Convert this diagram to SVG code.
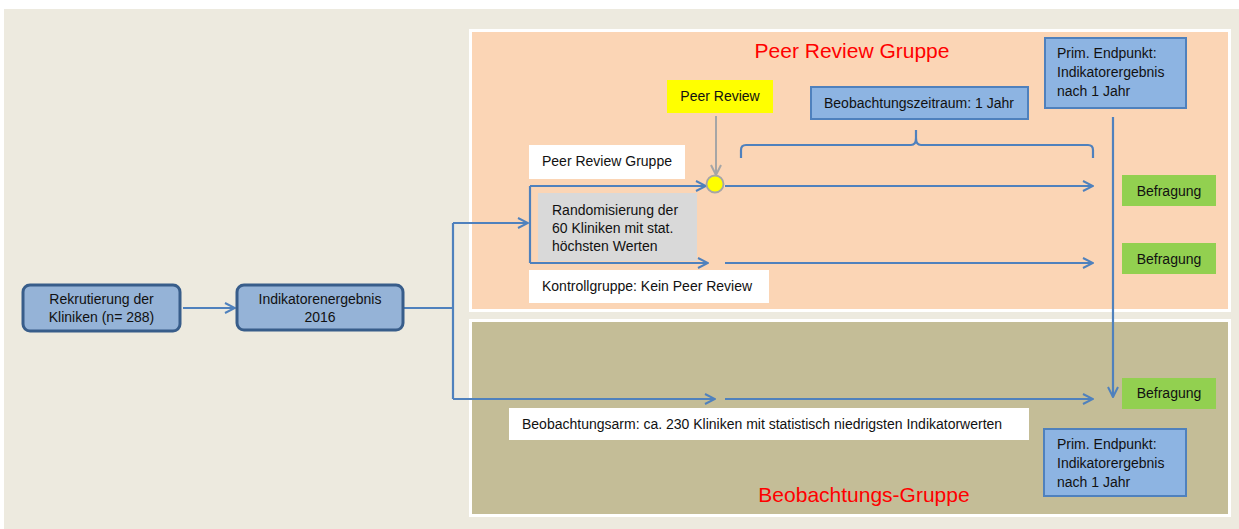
<svg xmlns="http://www.w3.org/2000/svg" width="1239" height="529" viewBox="0 0 1239 529">
<style>
text{font-family:"Liberation Sans",Arial,sans-serif;font-size:14px;fill:#111}
.red{fill:#FF0000;font-size:21px}
.blue{fill:#95B3D7;stroke:#385D8A;stroke-width:3}
.ep{fill:#8DB4E2;stroke:#4F81BD;stroke-width:2}
.wh{fill:#FFFFFF}
.gr{fill:#92D050}
.ln{fill:none;stroke:#4F81BD;stroke-width:2.2}
.ar{fill:none;stroke:#4F81BD;stroke-width:2.2;marker-end:url(#ah)}
</style>
<defs>
<marker id="ah" viewBox="0 0 12 12" refX="11" refY="6" markerWidth="12" markerHeight="12" markerUnits="userSpaceOnUse" orient="auto">
<path d="M1,1 L11,6 L1,11" fill="none" stroke="#4F81BD" stroke-width="2"/>
</marker>
<marker id="ahg" viewBox="0 0 12 12" refX="11" refY="6" markerWidth="12" markerHeight="12" markerUnits="userSpaceOnUse" orient="auto">
<path d="M1,1 L11,6 L1,11" fill="none" stroke="#A6A6A6" stroke-width="2"/>
</marker>
</defs>
<rect x="0" y="0" width="1239" height="529" fill="#FFFFFF"/>
<rect x="4" y="9" width="1235" height="520" fill="#EDEADF"/>
<g id="panel-peer">
<rect x="469" y="29" width="762" height="283" fill="#FFFFFF"/>
<rect x="472" y="32" width="756" height="277" fill="#FBD5B5"/>
<text class="red" x="852" y="58" text-anchor="middle">Peer Review Gruppe</text>
</g>
<g id="panel-beob">
<rect x="469" y="319" width="762" height="198" fill="#FFFFFF"/>
<rect x="472" y="322" width="756" height="192" fill="#C4BD97"/>
<text class="red" x="864" y="502" text-anchor="middle">Beobachtungs-Gruppe</text>
</g>
<g id="connectors">
<path class="ar" d="M183,308 L235,308"/>
<path class="ln" d="M403,308 L453,308 M453,223 L453,399"/>
<path class="ar" d="M453,223 L528,223"/>
<path class="ar" d="M453,399 L715,399"/>
<path class="ar" d="M725,399 L1093,399"/>
<path class="ln" d="M530,186 L530,263"/>
<path class="ar" d="M530,186 L706,186"/>
<path class="ar" d="M530,263 L708,263"/>
<path class="ar" d="M725,186 L1093,186"/>
<path class="ar" d="M725,263 L1093,263"/>
<path class="ar" d="M1113,117 L1113,397"/>
<path d="M716,116 L716,175" fill="none" stroke="#A6A6A6" stroke-width="2" marker-end="url(#ahg)"/>
<path class="ln" d="M741,158 L741,150 Q741,145 746,145 L911,145 Q916,145 916,138 L916,130 L916,138 Q916,145 921,145 L1088,145 Q1093,145 1093,150 L1093,158"/>
</g>
<g id="rekrutierung">
<rect class="blue" x="23" y="285" width="157" height="46" rx="7"/>
<text x="101.5" y="304" text-anchor="middle">Rekrutierung der</text>
<text x="101.5" y="322" text-anchor="middle">Kliniken (n= 288)</text>
</g>
<g id="indikator2016">
<rect class="blue" x="237" y="285" width="166" height="45" rx="7"/>
<text x="320" y="304" text-anchor="middle">Indikatorenergebnis</text>
<text x="320" y="322" text-anchor="middle">2016</text>
</g>
<g id="peer-review">
<rect x="667" y="80" width="106" height="33" fill="#FFFF00"/>
<text x="720" y="101" text-anchor="middle">Peer Review</text>
</g>
<g id="circle">
<circle cx="715" cy="184" r="8.5" fill="#FFFF00" stroke="#A6A6A6" stroke-width="1.8"/>
</g>
<g id="label-peer-gruppe">
<rect class="wh" x="529" y="145" width="156" height="34"/>
<text x="542" y="166">Peer Review Gruppe</text>
</g>
<g id="randomisierung">
<rect x="538" y="193" width="159" height="68" fill="#D9D9D9"/>
<text x="552" y="215">Randomisierung der</text>
<text x="552" y="233">60 Kliniken mit stat.</text>
<text x="552" y="251">höchsten Werten</text>
</g>
<g id="kontrollgruppe">
<rect class="wh" x="529" y="270" width="240" height="33"/>
<text x="542" y="291">Kontrollgruppe: Kein Peer Review</text>
</g>
<g id="beobachtungszeitraum">
<rect class="ep" x="811" y="87" width="217" height="32"/>
<text x="824" y="108">Beobachtungszeitraum: 1 Jahr</text>
</g>
<g id="endpunkt-top">
<rect class="ep" x="1045" y="38" width="141" height="70"/>
<text x="1057" y="58">Prim. Endpunkt:</text>
<text x="1057" y="77">Indikatorergebnis</text>
<text x="1057" y="96">nach 1 Jahr</text>
</g>
<g id="befragung1">
<rect class="gr" x="1122" y="175" width="94" height="31"/>
<text x="1169" y="196" text-anchor="middle">Befragung</text>
</g>
<g id="befragung2">
<rect class="gr" x="1122" y="243" width="94" height="31"/>
<text x="1169" y="264" text-anchor="middle">Befragung</text>
</g>
<g id="befragung3">
<rect class="gr" x="1122" y="378" width="94" height="31"/>
<text x="1169" y="398" text-anchor="middle">Befragung</text>
</g>
<g id="beobachtungsarm">
<rect class="wh" x="509" y="408" width="520" height="32"/>
<text x="522" y="429">Beobachtungsarm: ca. 230 Kliniken mit statistisch niedrigsten Indikatorwerten</text>
</g>
<g id="endpunkt-bottom">
<rect class="ep" x="1044" y="429" width="142" height="67"/>
<text x="1057" y="449">Prim. Endpunkt:</text>
<text x="1057" y="468">Indikatorergebnis</text>
<text x="1057" y="487">nach 1 Jahr</text>
</g>
</svg>
